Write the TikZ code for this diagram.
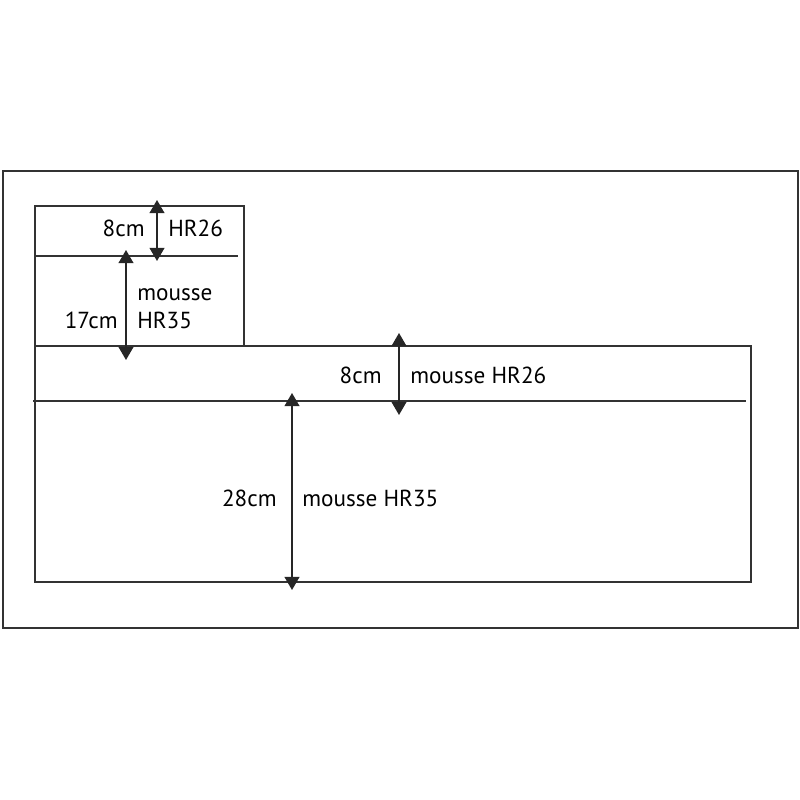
\documentclass[tikz,border=0pt]{standalone}
\usepackage{fontspec}
\setmainfont{PT Sans}
\usetikzlibrary{arrows.meta}
\begin{document}
\begin{tikzpicture}[x=0.02cm,y=-0.02cm,
  box/.style={draw=black!80,line width=0.9pt},
  cote/.style={{Triangle[width=8.5pt,length=7.5pt]}-{Triangle[width=8.5pt,length=7.5pt]},line width=0.8pt,draw=black!85},
  lbl/.style={font=\fontsize{13.2}{15}\selectfont,inner sep=0pt}]
\useasboundingbox (0,0) rectangle (800,800);
% cadre
\draw[box] (3,171) rectangle (798,628);
% dossier
\draw[box] (35,206) rectangle (244,346);
\draw[box] (35,256) -- (238,256);
% assise
\draw[box] (35,346) rectangle (751,582);
\draw[box] (33,401) -- (746,401);
% cotes
\coordinate (d1) at (157,200); \coordinate (d2) at (157,261);
\coordinate (d3) at (126,250); \coordinate (d4) at (126,360);
\coordinate (a1) at (399,333); \coordinate (a2) at (399,415);
\coordinate (a3) at (292,393); \coordinate (a4) at (292,590);
\draw[cote] (d1) -- (d2);
\draw[cote] (d3) -- (d4);
\draw[cote] (a1) -- (a2);
\draw[cote] (a3) -- (a4);
% textes
\node[lbl,anchor=east] (t8a) at (145,228) {8cm};
\node[lbl,anchor=west] (hr26a) at (168,228) {HR26};
\node[lbl,anchor=west] (m35a) at (137,295) {mousse};
\node[lbl,anchor=west] (hr35a) at (137,320) {HR35};
\node[lbl,anchor=east] (t17) at (118,320) {17cm};
\node[lbl,anchor=east] (t8b) at (382,375) {8cm};
\node[lbl,anchor=west] (m26b) at (410,375) {mousse HR26};
\node[lbl,anchor=east] (t28) at (277,498) {28cm};
\node[lbl,anchor=west] (m35b) at (302,498) {mousse HR35};
\end{tikzpicture}
\end{document}
